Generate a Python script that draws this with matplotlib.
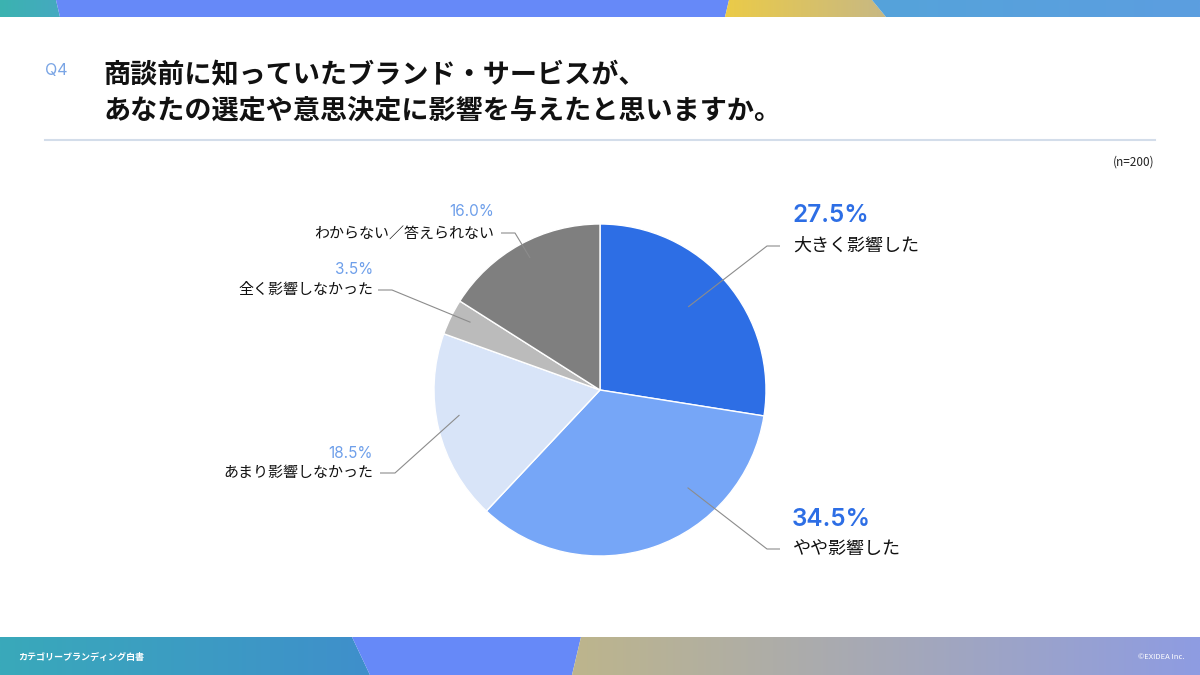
import numpy as np
import matplotlib
matplotlib.use("Agg")
import matplotlib.pyplot as plt
from matplotlib.patches import Polygon
from matplotlib.colors import LinearSegmentedColormap

plt.rcParams['font.family'] = ['Noto Sans CJK JP', 'DejaVu Sans']

# ---------------- data ----------------
categories = ["大きく影響した", "やや影響した", "あまり影響しなかった",
              "全く影響しなかった", "わからない／答えられない"]
values = [27.5, 34.5, 18.5, 3.5, 16.0]
pct_labels = ["27.5%", "34.5%", "18.5%", "3.5%", "16.0%"]
title_lines = ["商談前に知っていたブランド・サービスが、",
               "あなたの選定や意思決定に影響を与えたと思いますか。"]
q_label = "Q4"
n_label = "(n=200)"
footer_left = "カテゴリーブランディング白書"
footer_right = "©EXIDEA Inc."

# ---------------- style / layout ----------------
W, H = 1200, 675
wedge_colors = ["#2D6EE5", "#76A6F7", "#D8E4F8", "#BBBBBB", "#7F7F7F"]
CX, CY, R = 600, 390, 166          # pie centre / radius in pixels
label_layout = [
    dict(a=43.3, r=0.73, elbow=(767, 246), end=(780, 246), tx=792, ty_pct=215, ty_lab=246, side="right"),
    dict(a=-48.1, r=0.79, elbow=(767, 549), end=(780, 549), tx=792, ty_pct=519, ty_lab=549, side="right"),
    dict(a=190.1, r=0.86, elbow=(395, 473), end=(380, 473), tx=373, ty_pct=453, ty_lab=473, side="left"),
    dict(a=152.4, r=0.88, elbow=(392, 290), end=(378, 290), tx=373, ty_pct=270, ty_lab=290, side="left"),
    dict(a=117.9, r=0.90, elbow=(515, 233), end=(501, 233), tx=494, ty_pct=212, ty_lab=234, side="left"),
]
NUM_FONT = ['Inter', 'Noto Sans CJK JP', 'DejaVu Sans']

fig = plt.figure(figsize=(W / 100, H / 100), dpi=100)
fig.patch.set_facecolor("white")

# ---------------- background decorations ----------------
bg = fig.add_axes([0, 0, 1, 1])
bg.set_xlim(0, W)
bg.set_ylim(H, 0)
bg.axis("off")


def grad_poly(ax, pts, c0, c1):
    poly = Polygon(pts, closed=True, facecolor="none", edgecolor="none")
    ax.add_patch(poly)
    xs = [p[0] for p in pts]
    ys = [p[1] for p in pts]
    cmap = LinearSegmentedColormap.from_list("g", [c0, c1])
    grad = np.linspace(0, 1, 256).reshape(1, -1)
    im = ax.imshow(grad, cmap=cmap, extent=[min(xs), max(xs), max(ys), min(ys)],
                   aspect="auto", interpolation="bilinear", zorder=1)
    im.set_clip_path(poly)


# top bar
grad_poly(bg, [(0, 0), (56, 0), (60, 17), (0, 17)], "#3BB3B0", "#45A9C0")
bg.add_patch(Polygon([(56, 0), (729, 0), (725, 17), (60, 17)], closed=True,
                     facecolor="#6689F8", edgecolor="none", zorder=1))
grad_poly(bg, [(729, 0), (872, 0), (886, 17), (725, 17)], "#EBCB48", "#C7B884")
grad_poly(bg, [(872, 0), (W, 0), (W, 17), (886, 17)], "#55A3DA", "#5C9EE0")

# bottom bar
grad_poly(bg, [(0, 637), (352, 637), (370, H), (0, H)], "#39A9BA", "#3F8FCB")
bg.add_patch(Polygon([(352, 637), (581, 637), (572, H), (370, H)], closed=True,
                     facecolor="#6689F8", edgecolor="none", zorder=1))
grad_poly(bg, [(581, 637), (W, 637), (W, H), (572, H)], "#BDB58C", "#8E9CE2")

bg.text(18, 657, footer_left, color="white", fontsize=6.5, fontweight="bold",
        va="center", ha="left", zorder=3)
bg.text(1185, 657, footer_right, color="white", fontsize=5.5,
        va="center", ha="right", zorder=3)

# header
bg.text(45, 70, q_label, color="#7AA5E5", fontsize=11.5, va="center", ha="left",
        family=NUM_FONT)
bg.text(103, 75, title_lines[0], color="#111111", fontsize=19.5, fontweight="bold",
        va="center", ha="left")
bg.text(103, 111, title_lines[1], color="#111111", fontsize=19.5, fontweight="bold",
        va="center", ha="left")
bg.plot([45, 1155], [140, 140], color="#D3DDEA", lw=1.5, zorder=2)
bg.text(1155, 162, n_label, color="#222222", fontsize=8.5, va="center", ha="right")

# ---------------- pie ----------------
pax = fig.add_axes([(CX - R) / W, (H - CY - R) / H, 2 * R / W, 2 * R / H])
pax.pie(values, colors=wedge_colors, startangle=90, counterclock=False, radius=1,
        wedgeprops=dict(edgecolor="white", linewidth=1))
pax.set_xlim(-1, 1)
pax.set_ylim(-1, 1)
pax.set_aspect("equal")
pax.axis("off")

# ---------------- labels & leaders ----------------
top = fig.add_axes([0, 0, 1, 1])
top.set_xlim(0, W)
top.set_ylim(H, 0)
top.axis("off")
top.patch.set_alpha(0)

for cat, pct, lay in zip(categories, pct_labels, label_layout):
    a = np.deg2rad(lay["a"])
    ax_ = CX + lay["r"] * R * np.cos(a)
    ay_ = CY - lay["r"] * R * np.sin(a)
    top.plot([ax_, lay["elbow"][0], lay["end"][0]],
             [ay_, lay["elbow"][1], lay["end"][1]],
             color="#8C8C8C", lw=0.8, solid_capstyle="butt")
    if lay["side"] == "right":
        top.text(lay["tx"], lay["ty_pct"], pct, color="#2D6EE5", fontsize=17.5,
                 fontweight="semibold", ha="left", va="center", family=NUM_FONT)
        top.text(lay["tx"] + 1, lay["ty_lab"], cat, color="#111111", fontsize=13,
                 ha="left", va="center")
    else:
        top.text(lay["tx"], lay["ty_pct"], pct, color="#6E9FEA", fontsize=11,
                 ha="right", va="center", family=NUM_FONT)
        top.text(lay["tx"], lay["ty_lab"], cat, color="#111111", fontsize=10.8,
                 ha="right", va="center")

fig.savefig("out.png", dpi=100, facecolor="white")
